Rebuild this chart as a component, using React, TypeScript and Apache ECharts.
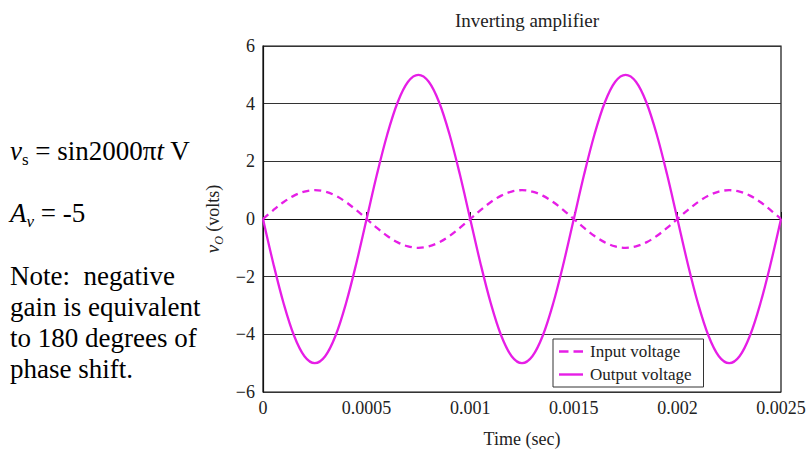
import React, { useEffect, useRef } from "react";
import * as echarts from "echarts";

const timeSec = [
  0, 0.00005, 0.0001, 0.00015, 0.0002, 0.00025, 0.0003, 0.00035, 0.0004, 0.00045,
  0.0005, 0.00055, 0.0006, 0.00065, 0.0007, 0.00075, 0.0008, 0.00085, 0.0009, 0.00095,
  0.001, 0.00105, 0.0011, 0.00115, 0.0012, 0.00125, 0.0013, 0.00135, 0.0014, 0.00145,
  0.0015, 0.00155, 0.0016, 0.00165, 0.0017, 0.00175, 0.0018, 0.00185, 0.0019, 0.00195,
  0.002, 0.00205, 0.0021, 0.00215, 0.0022, 0.00225, 0.0023, 0.00235, 0.0024, 0.00245,
  0.0025,
];

const inputVoltage = [
  0, 0.31, 0.59, 0.81, 0.95, 1, 0.95, 0.81, 0.59, 0.31,
  0, -0.31, -0.59, -0.81, -0.95, -1, -0.95, -0.81, -0.59, -0.31,
  0, 0.31, 0.59, 0.81, 0.95, 1, 0.95, 0.81, 0.59, 0.31,
  0, -0.31, -0.59, -0.81, -0.95, -1, -0.95, -0.81, -0.59, -0.31,
  0, 0.31, 0.59, 0.81, 0.95, 1, 0.95, 0.81, 0.59, 0.31,
  0,
];

const outputVoltage = [
  0, -1.55, -2.94, -4.05, -4.76, -5, -4.76, -4.05, -2.94, -1.55,
  0, 1.55, 2.94, 4.05, 4.76, 5, 4.76, 4.05, 2.94, 1.55,
  0, -1.55, -2.94, -4.05, -4.76, -5, -4.76, -4.05, -2.94, -1.55,
  0, 1.55, 2.94, 4.05, 4.76, 5, 4.76, 4.05, 2.94, 1.55,
  0, -1.55, -2.94, -4.05, -4.76, -5, -4.76, -4.05, -2.94, -1.55,
  0,
];

const xTickLabels = ["0", "0.0005", "0.001", "0.0015", "0.002", "0.0025"];
const noteLines = ["Note:  negative", "gain is equivalent", "to 180 degrees of", "phase shift."];

const SERIF = "Liberation Serif, Times New Roman, serif";
const FONT_Q = '"Liberation Serif", "Times New Roman", serif';
const MAGENTA = "#e61ee6";

function tok(size: number, italic: boolean, extra: any = {}) {
  return {
    font: (italic ? "italic " : "") + size + "px " + FONT_Q,
    fontFamily: SERIF,
    fontSize: size,
    fontStyle: italic ? "italic" : "normal",
    fill: "#000",
    ...extra,
  };
}

export default function App() {
  const ref = useRef<HTMLDivElement>(null);

  useEffect(() => {
    if (!ref.current) return;
    const chart = echarts.init(ref.current, undefined, { renderer: "svg" });

    const inputData = timeSec.map((t, i) => [t, inputVoltage[i]]);
    const outputData = timeSec.map((t, i) => [t, outputVoltage[i]]);

    const noteText = noteLines.map((l) => "{n|" + l + "}").join("\n");

    const option: any = {
      animation: false,
      backgroundColor: "#ffffff",
      title: {
        text: "Inverting amplifier",
        left: 522,
        textAlign: "center",
        top: 6,
        textStyle: { fontFamily: SERIF, fontSize: 19, fontWeight: "normal", color: "#222" },
      },
      grid: {
        left: 263,
        right: 30,
        top: 46,
        bottom: 53,
        show: true,
        borderColor: "#111",
        borderWidth: 1.2,
        backgroundColor: "transparent",
      },
      legend: {
        orient: "vertical",
        left: 553,
        top: 339,
        backgroundColor: "#fff",
        borderColor: "#333",
        borderWidth: 1,
        borderRadius: 0,
        padding: [4, 12, 4, 6],
        itemGap: 6,
        itemWidth: 24,
        itemHeight: 14,
        symbolKeepAspect: true,
        itemStyle: { borderWidth: 0 },
        textStyle: { fontFamily: SERIF, fontSize: 17, color: "#222", padding: [0, 0, 0, 2] },
        data: [
          { name: "Input voltage", icon: "path://M0,0h9.5v2.4h-9.5z M14.5,0h9.5v2.4h-9.5z" },
          { name: "Output voltage", icon: "path://M0,0h24v2.4h-24z" },
        ],
      },
      xAxis: {
        type: "value",
        min: 0,
        max: 0.0025,
        interval: 0.0005,
        name: "Time (sec)",
        nameLocation: "middle",
        nameGap: 38,
        nameTextStyle: { fontFamily: SERIF, fontSize: 18, color: "#222" },
        axisLine: { show: true, lineStyle: { color: "#111", width: 1.2 } },
        axisTick: { show: true, inside: true, length: 7, lineStyle: { color: "#111" } },
        splitLine: { show: false },
        axisLabel: {
          fontFamily: SERIF,
          fontSize: 18,
          color: "#222",
          margin: 7,
          formatter: (v: number) => {
            const idx = Math.round(v / 0.0005);
            return xTickLabels[idx] ?? String(v);
          },
        },
      },
      yAxis: {
        type: "value",
        min: -6,
        max: 6,
        interval: 2,
        name: "{v|v}{o|O}{n| (volts)}",
        nameLocation: "middle",
        nameGap: 38,
        nameRotate: 90,
        nameTextStyle: {
          fontFamily: SERIF,
          fontSize: 18,
          color: "#222",
          rich: {
            v: { fontFamily: SERIF, fontSize: 19, fontStyle: "italic", color: "#222", verticalAlign: "bottom", padding: [0, 0, 3, 0] },
            o: { fontFamily: SERIF, fontSize: 12, fontStyle: "italic", color: "#222", verticalAlign: "bottom" },
            n: { fontFamily: SERIF, fontSize: 18, color: "#222", verticalAlign: "bottom", padding: [0, 0, 3, 0] },
          },
        },
        axisLine: { show: true, lineStyle: { color: "#111", width: 1.2 } },
        axisTick: { show: false },
        splitLine: { show: true, lineStyle: { color: "#333", width: 1 } },
        axisLabel: {
          fontFamily: SERIF,
          fontSize: 18,
          color: "#222",
          margin: 8,
          formatter: (v: number) => (v < 0 ? "\u2212" + Math.abs(v) : String(v)),
        },
      },
      series: [
        {
          name: "Input voltage",
          type: "line",
          data: inputData,
          smooth: 0.35,
          symbol: "none",
          lineStyle: { color: MAGENTA, width: 2.3, type: [7, 5] },
          itemStyle: { color: MAGENTA },
        },
        {
          name: "Output voltage",
          type: "line",
          data: outputData,
          smooth: 0.35,
          symbol: "none",
          lineStyle: { color: MAGENTA, width: 2.3, type: "solid" },
          itemStyle: { color: MAGENTA },
        },
      ],
      graphic: [
        {
          type: "text",
          left: 10,
          top: 137,
          style: {
            text: "{vi|v}{sub|s}{n| = sin2000π}{vi|t}{n| V}",
            fill: "#000",
            rich: {
              vi: tok(27, true, { lineHeight: 29, verticalAlign: "bottom", padding: [0, 0, 4, 0] }),
              sub: tok(17, false, { lineHeight: 17, verticalAlign: "bottom" }),
              n: tok(27, false, { lineHeight: 29, verticalAlign: "bottom", padding: [0, 0, 4, 0] }),
            },
          },
        },
        {
          type: "text",
          left: 10,
          top: 199,
          style: {
            text: "{vi|A}{sub|v}{n| = -5}",
            fill: "#000",
            rich: {
              vi: tok(27, true, { lineHeight: 29, verticalAlign: "bottom", padding: [0, 0, 4, 0] }),
              sub: tok(17, true, { lineHeight: 17, verticalAlign: "bottom" }),
              n: tok(27, false, { lineHeight: 29, verticalAlign: "bottom", padding: [0, 0, 4, 0] }),
            },
          },
        },
        {
          type: "text",
          left: 10,
          top: 262,
          style: {
            text: noteText,
            fill: "#000",
            font: "27px " + FONT_Q,
            rich: {
              n: tok(27, false, { lineHeight: 31 }),
            },
          },
        },
      ],
    };

    chart.setOption(option);
    return () => chart.dispose();
  }, []);

  return <div ref={ref} style={{ width: 811, height: 453, position: "absolute", left: 0, top: 0 }} />;
}
